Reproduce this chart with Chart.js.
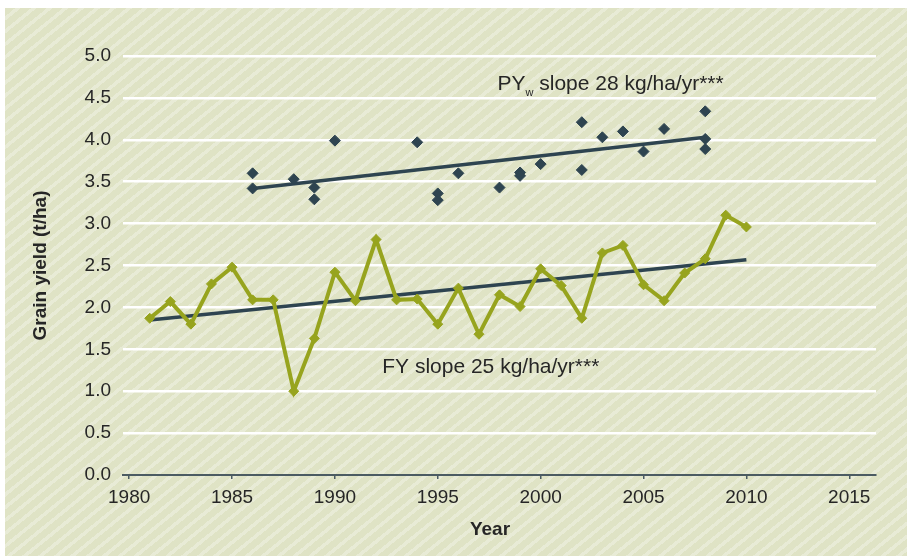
<!DOCTYPE html>
<html>
<head>
<meta charset="utf-8">
<script src="https://cdn.jsdelivr.net/npm/chart.js@4.4.1/dist/chart.umd.min.js"></script>
<style>
    html, body { margin: 0; padding: 0; background: #fff; }
    #wrap {
        position: relative;
        width: 907px;
        height: 558px;
    }
    #bg {
        position: absolute;
        left: 5px; top: 8px; right: 0; bottom: 2px;
        background: repeating-linear-gradient(141deg, #DFE3C5 0px, #DFE3C5 6.5px, #E8EBD6 6.5px, #E8EBD6 10px);
    }
    #chart { position: absolute; left: 0; top: 0; }
</style>
</head>
<body>
<div id="wrap">
    <div id="bg"></div>
    <canvas id="chart" width="907" height="558"></canvas>
</div>
<script>
// Farm yield (FY), one value per year
const fyYears = [1981, 1982, 1983, 1984, 1985, 1986, 1987, 1988, 1989, 1990,
    1991, 1992, 1993, 1994, 1995, 1996, 1997, 1998, 1999, 2000,
    2001, 2002, 2003, 2004, 2005, 2006, 2007, 2008, 2009, 2010];
const fyValues = [1.87, 2.07, 1.80, 2.28, 2.48, 2.09, 2.09, 1.00, 1.63, 2.42,
    2.08, 2.81, 2.09, 2.10, 1.80, 2.23, 1.68, 2.15, 2.01, 2.46,
    2.26, 1.87, 2.65, 2.74, 2.27, 2.08, 2.41, 2.58, 3.10, 2.96];

// Water-limited potential yield (PYw) points
const pyYears = [1986, 1986, 1988, 1989, 1989, 1990, 1994, 1995, 1995, 1996, 1998, 1999,
    1999, 2000, 2002, 2002, 2003, 2004, 2005, 2006, 2008, 2008, 2008];
const pyValues = [3.60, 3.42, 3.53, 3.43, 3.29, 3.99, 3.97, 3.36, 3.28, 3.60, 3.43, 3.61,
    3.57, 3.71, 4.21, 3.64, 4.03, 4.10, 3.86, 4.13, 4.34, 4.01, 3.89];

// Trend line end points
const fyTrendYears = [1981, 2010];
const fyTrendValues = [1.85, 2.57];
const pyTrendYears = [1986, 2008];
const pyTrendValues = [3.42, 4.03];

// Axis ticks
const xTicks = [1980, 1985, 1990, 1995, 2000, 2005, 2010, 2015];
const yTicks = [0, 0.5, 1.0, 1.5, 2.0, 2.5, 3.0, 3.5, 4.0, 4.5, 5.0];

const green = '#97A41E';
const dark = '#2E4450';
const textColor = '#262626';
const fontFamily = '"Liberation Sans", Arial, sans-serif';

const toPoints = (xs, ys) => xs.map((x, i) => ({ x: x, y: ys[i] }));

// Text labels: slope notes and axis titles
const labelsPlugin = {
    id: 'labels',
    afterDraw(chart) {
        const { ctx, scales: { x, y }, chartArea } = chart;
        ctx.save();
        ctx.fillStyle = textColor;
        ctx.textBaseline = 'alphabetic';
        ctx.textAlign = 'left';

        // PYw slope note
        let px = x.getPixelForValue(1997.9);
        let py = y.getPixelForValue(4.59);
        ctx.font = '21px ' + fontFamily;
        ctx.fillText('PY', px, py);
        px += ctx.measureText('PY').width;
        ctx.font = '11px ' + fontFamily;
        ctx.fillText('w', px, py + 6);
        px += ctx.measureText('w').width;
        ctx.font = '21px ' + fontFamily;
        ctx.fillText(' slope 28 kg/ha/yr***', px, py);

        // FY slope note
        ctx.textBaseline = 'middle';
        ctx.fillText('FY slope 25 kg/ha/yr***', x.getPixelForValue(1992.3), y.getPixelForValue(1.29));

        // axis titles
        ctx.font = 'bold 19px ' + fontFamily;
        ctx.textAlign = 'center';
        ctx.fillText('Year', 490, 530);
        ctx.translate(41, (chartArea.top + chartArea.bottom) / 2);
        ctx.rotate(-Math.PI / 2);
        ctx.fillText('Grain yield (t/ha)', 0, 0);
        ctx.restore();
    }
};

const ctx = document.getElementById('chart').getContext('2d');
const chart = new Chart(ctx, {
    type: 'scatter',
    data: {
        datasets: [
            {
                label: 'PYw',
                data: toPoints(pyYears, pyValues),
                showLine: false,
                pointStyle: 'rectRot',
                pointRadius: 5.5,
                pointBackgroundColor: dark,
                pointBorderColor: dark,
                pointBorderWidth: 1,
                order: 0
            },
            {
                label: 'PYw trend',
                data: toPoints(pyTrendYears, pyTrendValues),
                showLine: true,
                borderColor: dark,
                borderWidth: 3.5,
                pointRadius: 0,
                order: 1
            },
            {
                label: 'FY',
                data: toPoints(fyYears, fyValues),
                showLine: true,
                borderColor: green,
                borderWidth: 4,
                pointStyle: 'rectRot',
                pointRadius: 5,
                pointBackgroundColor: green,
                pointBorderColor: green,
                pointBorderWidth: 1,
                order: 2
            },
            {
                label: 'FY trend',
                data: toPoints(fyTrendYears, fyTrendValues),
                showLine: true,
                borderColor: dark,
                borderWidth: 3.5,
                pointRadius: 0,
                order: 3
            }
        ]
    },
    options: {
        responsive: false,
        animation: false,
        layout: { padding: { left: 0, top: 56, right: 31, bottom: 0 } },
        plugins: {
            legend: { display: false },
            tooltip: { enabled: false }
        },
        scales: {
            x: {
                type: 'linear',
                min: 1979.7,
                max: 2016.3,
                afterBuildTicks: (scale) => { scale.ticks = xTicks.map(v => ({ value: v })); },
                afterFit: (scale) => { scale.height = 83; },
                grid: {
                    drawOnChartArea: false,
                    drawTicks: true,
                    tickLength: 4,
                    color: '#4B5B62',
                    lineWidth: 1.5
                },
                border: { display: true, color: '#4B5B62', width: 2 },
                ticks: {
                    color: textColor,
                    padding: 7,
                    maxRotation: 0,
                    font: { family: fontFamily, size: 19 },
                    callback: (v) => String(v)
                }
            },
            y: {
                min: 0,
                max: 5,
                afterBuildTicks: (scale) => { scale.ticks = yTicks.map(v => ({ value: v })); },
                afterFit: (scale) => { scale.width = 123; },
                grid: {
                    drawTicks: false,
                    color: (c) => c.tick && c.tick.value === 0 ? 'rgba(0,0,0,0)' : '#FFFFFF',
                    lineWidth: 2.5
                },
                border: { display: false },
                ticks: {
                    color: textColor,
                    padding: 12,
                    font: { family: fontFamily, size: 19 },
                    callback: (v) => Number(v).toFixed(1)
                }
            }
        }
    },
    plugins: [labelsPlugin]
});
</script>
</body>
</html>
